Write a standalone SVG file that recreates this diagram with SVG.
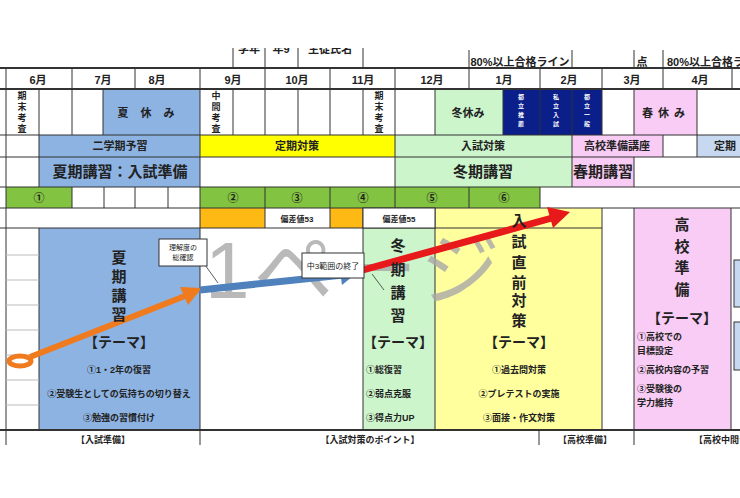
<svg xmlns="http://www.w3.org/2000/svg" width="740" height="498" viewBox="0 0 740 498">
<defs>
<style>
text{font-family:"Liberation Sans","Noto Sans CJK JP",sans-serif;fill:#222;text-anchor:middle;font-weight:bold}
.s{font-size:9px}.m{font-size:11px}.l{font-size:14px}.v{font-size:15px}
</style>
<clipPath id="topclip"><rect x="0" y="48" width="740" height="30"/></clipPath>
</defs>
<rect width="740" height="498" fill="#fff"/>
<g id="top-row" clip-path="url(#topclip)">
<g fill="none" stroke="#333"><line x1="233" y1="40" x2="233" y2="68"/><line x1="265" y1="40" x2="265" y2="68"/><line x1="298" y1="40" x2="298" y2="68"/><line x1="363" y1="40" x2="363" y2="68"/><line x1="469" y1="50" x2="469" y2="68"/><line x1="572" y1="50" x2="572" y2="68"/><line x1="634" y1="50" x2="634" y2="68"/><line x1="663" y1="50" x2="663" y2="68"/></g>
<text x="249" y="53" class="m">学年</text><text x="281" y="53" class="m">年9</text><text x="330" y="53" class="m">生徒氏名</text>
</g>
<text x="520" y="66" class="m">80%以上合格ライン</text><text x="642" y="66" class="m">点</text><text x="667" y="66" class="m" style="text-anchor:start">80%以上合格ライン</text>
<g id="fills">
<rect x="103" y="89" width="97" height="46" fill="#8db3e2"/>
<rect x="435" y="89" width="68" height="46" fill="#ccf5cc"/>
<rect x="503" y="89" width="99" height="46" fill="#0b1f8a"/>
<rect x="634" y="89" width="63" height="46" fill="#f9ccf5"/>
<rect x="39" y="135" width="161" height="52" fill="#8db3e2"/>
<rect x="200" y="135" width="195" height="22" fill="#ffff00"/>
<rect x="395" y="135" width="177" height="52" fill="#ccf5cc"/>
<rect x="572" y="135" width="91" height="22" fill="#f9ccf5"/>
<rect x="572" y="157" width="62" height="30" fill="#f9ccf5"/>
<rect x="697" y="135" width="43" height="22" fill="#c6d9f0"/>
<rect x="6" y="187" width="66" height="21" fill="#82c341"/>
<rect x="200" y="187" width="340" height="21" fill="#82c341"/>
<rect x="200" y="208" width="65" height="20" fill="#ffb914"/>
<rect x="330" y="208" width="33" height="20" fill="#ffb914"/>
<rect x="435" y="208" width="167" height="222" fill="#ffff9e"/>
<rect x="634" y="208" width="97" height="222" fill="#f9ccf5"/>
<rect x="39" y="228" width="161" height="202" fill="#8db3e2"/>
<rect x="363" y="228" width="72" height="202" fill="#ccf5cc"/>
<rect x="734" y="260" width="8" height="47" fill="#c6d9f0" stroke="#333"/>
<rect x="734" y="322" width="8" height="48" fill="#c6d9f0" stroke="#333"/>
</g>
<g id="grid" fill="none" stroke="#333" stroke-width="1">
<line x1="0" y1="68" x2="740" y2="68" stroke-width="2"/>
<line x1="0" y1="89" x2="740" y2="89" stroke-width="2"/>
<line x1="0" y1="135" x2="740" y2="135"/>
<line x1="0" y1="157" x2="740" y2="157"/>
<line x1="0" y1="187" x2="740" y2="187"/>
<line x1="0" y1="208" x2="740" y2="208"/>
<line x1="0" y1="228" x2="602" y2="228"/>
<line x1="0" y1="430" x2="740" y2="430" stroke-width="2"/>
<line x1="6" y1="68" x2="6" y2="445"/>
<path d="M72 68V89M135 68V89M200 68V430M265 68V89M330 68V89M395 68V89M469 68V89M540 68V89M602 68V89M663 68V89M732 68V89"/>
<path d="M39 89V135M72 89V135M103 89V135M233 89V135M265 89V135M298 89V135M330 89V135M363 89V135M395 89V135M435 89V135M503 89V135M540 89V135M572 89V135M602 89V135M634 89V135M697 89V135"/>
<path d="M39 135V187M395 135V187M572 135V187M663 135V157M697 135V157M634 157V187"/>
<path d="M72 187V208M104 187V208M135 187V208M168 187V208M265 187V228M330 187V228M395 187V208M469 187V208M540 187V208"/>
<path d="M39 228V430M363 208V430M435 208V430M602 208V430M634 208V430M731 208V430"/>
<path d="M6 255H39M6 280H39M6 305H39M6 330H39M6 355H39M6 380H39M6 405H39" stroke="#bbb"/>
<path d="M200 430V445M539 430V445M634 430V445"/>
<rect x="363" y="208" width="72" height="20" fill="#fff"/>
</g>
<g id="labels">
<text x="38" y="84" class="m">6月</text><text x="103" y="84" class="m">7月</text><text x="157" y="84" class="m">8月</text><text x="233" y="84" class="m">9月</text><text x="297" y="84" class="m">10月</text><text x="363" y="84" class="m">11月</text><text x="432" y="84" class="m">12月</text><text x="504" y="84" class="m">1月</text><text x="569" y="84" class="m">2月</text><text x="632" y="84" class="m">3月</text><text x="700" y="84" class="m">4月</text>
<text x="22" y="99" class="s">期</text><text x="22" y="110" class="s">末</text><text x="22" y="121" class="s">考</text><text x="22" y="132" class="s">査</text>
<text x="216" y="99" class="s">中</text><text x="216" y="110" class="s">間</text><text x="216" y="121" class="s">考</text><text x="216" y="132" class="s">査</text>
<text x="379" y="99" class="s">期</text><text x="379" y="110" class="s">末</text><text x="379" y="121" class="s">考</text><text x="379" y="132" class="s">査</text>
<text x="152" y="117" class="m" letter-spacing="12">夏休み</text>
<text x="468" y="117" class="m">冬休み</text>
<text x="521" y="99" style="fill:#fff;font-size:6px">都</text><text x="521" y="108" style="fill:#fff;font-size:6px">立</text><text x="521" y="117" style="fill:#fff;font-size:6px">推</text><text x="521" y="126" style="fill:#fff;font-size:6px">薦</text>
<text x="556" y="99" style="fill:#fff;font-size:6px">私</text><text x="556" y="108" style="fill:#fff;font-size:6px">立</text><text x="556" y="117" style="fill:#fff;font-size:6px">入</text><text x="556" y="126" style="fill:#fff;font-size:6px">試</text>
<text x="587" y="99" style="fill:#fff;font-size:6px">都</text><text x="587" y="108" style="fill:#fff;font-size:6px">立</text><text x="587" y="117" style="fill:#fff;font-size:6px">一</text><text x="587" y="126" style="fill:#fff;font-size:6px">般</text>
<text x="666" y="117" class="m" letter-spacing="5">春休み</text>
<text x="120" y="150" class="m">二学期予習</text><text x="297" y="150" class="m">定期対策</text><text x="483" y="150" class="m">入試対策</text><text x="617" y="150" class="m">高校準備講座</text><text x="725" y="150" class="m">定期</text>
<text x="120" y="177" class="l" style="font-size:15px">夏期講習：入試準備</text><text x="483" y="177" class="l" style="font-size:15px">冬期講習</text><text x="603" y="177" class="l" style="font-size:15px">春期講習</text>
<text x="39" y="202" class="m">①</text><text x="233" y="202" class="m">②</text><text x="297" y="202" class="m">③</text><text x="363" y="202" class="m">④</text><text x="432" y="202" class="m">⑤</text><text x="504" y="202" class="m">⑥</text>
<text x="297" y="222" class="s" style="font-size:8px">偏差値53</text><text x="399" y="222" class="s" style="font-size:8px">偏差値55</text>
</g>
<text id="watermark" x="205" y="298" style="font-size:80px;fill:#a8a8a8;font-weight:normal;text-anchor:start;opacity:0.8" letter-spacing="4">1ページ</text>
<g id="connectors">
<ellipse cx="20" cy="361" rx="11" ry="5" fill="none" stroke="#f07b1e" stroke-width="5"/>
<line x1="30" y1="357" x2="185" y2="296" stroke="#f07b1e" stroke-width="6"/>
<polygon points="202,288 180,287 188,305" fill="#f07b1e"/>
<line x1="200" y1="290" x2="343" y2="275" stroke="#4f81bd" stroke-width="7"/>
<polygon points="358,272 339,264 342,285" fill="#4f81bd"/>
<line x1="363" y1="270" x2="552" y2="218" stroke="#e8191b" stroke-width="7"/>
<polygon points="570,212 547,207 553,228" fill="#e8191b"/>
</g>
<g id="callout1"><line x1="200" y1="258" x2="218" y2="283" stroke="#333" stroke-width="0.8"/><rect x="159" y="239" width="48" height="27" fill="#fff" stroke="#333"/><text x="183" y="250" style="font-size:7px;font-weight:normal">理解度の</text><text x="183" y="260" style="font-size:7px;font-weight:normal">総確認</text></g>
<g id="callout2"><line x1="372" y1="274" x2="384" y2="290" stroke="#333" stroke-width="0.8"/><rect x="302" y="253" width="62" height="25" fill="#fff" stroke="#333"/><text x="333" y="269" style="font-size:8px;font-weight:normal">中3範囲の終了</text></g>
<g id="texts">
<text x="119" y="263" class="v">夏</text><text x="119" y="282" class="v">期</text><text x="119" y="301" class="v">講</text><text x="119" y="320" class="v">習</text>
<text x="119" y="347" class="l">【テーマ】</text>
<text x="119" y="373" class="s">①1・2年の復習</text><text x="119" y="397" class="s">②受験生としての気持ちの切り替え</text><text x="119" y="421" class="s">③勉強の習慣付け</text>
<text x="398" y="251" class="v">冬</text><text x="398" y="275" class="v">期</text><text x="398" y="298" class="v">講</text><text x="398" y="321" class="v">習</text>
<text x="398" y="347" class="l">【テーマ】</text>
<text x="366" y="373" class="s" style="text-anchor:start">①総復習</text><text x="366" y="397" class="s" style="text-anchor:start">②弱点克服</text><text x="366" y="421" class="s" style="text-anchor:start">③得点力UP</text>
<text x="519" y="226" class="v">入</text><text x="519" y="247" class="v">試</text><text x="519" y="268" class="v">直</text><text x="519" y="288" class="v">前</text><text x="519" y="306" class="v">対</text><text x="519" y="326" class="v">策</text>
<text x="519" y="347" class="l">【テーマ】</text>
<text x="519" y="373" class="s">①過去問対策</text><text x="519" y="397" class="s">②プレテストの実施</text><text x="519" y="421" class="s">③面接・作文対策</text>
<text x="682" y="230" class="v">高</text><text x="682" y="252" class="v">校</text><text x="682" y="273" class="v">準</text><text x="682" y="295" class="v">備</text>
<text x="682" y="323" class="l">【テーマ】</text>
<text x="637" y="340" class="s" style="text-anchor:start">①高校での</text><text x="637" y="354" class="s" style="text-anchor:start">目標設定</text><text x="637" y="373" class="s" style="text-anchor:start">②高校内容の予習</text><text x="637" y="392" class="s" style="text-anchor:start">③受験後の</text><text x="637" y="406" class="s" style="text-anchor:start">学力維持</text>
<text x="103" y="443" class="s">【入試準備】</text><text x="370" y="443" class="s">【入試対策のポイント】</text><text x="585" y="443" class="s">【高校準備】</text><text x="694" y="443" class="s" style="text-anchor:start">【高校中間テ</text>
</g>
</svg>
